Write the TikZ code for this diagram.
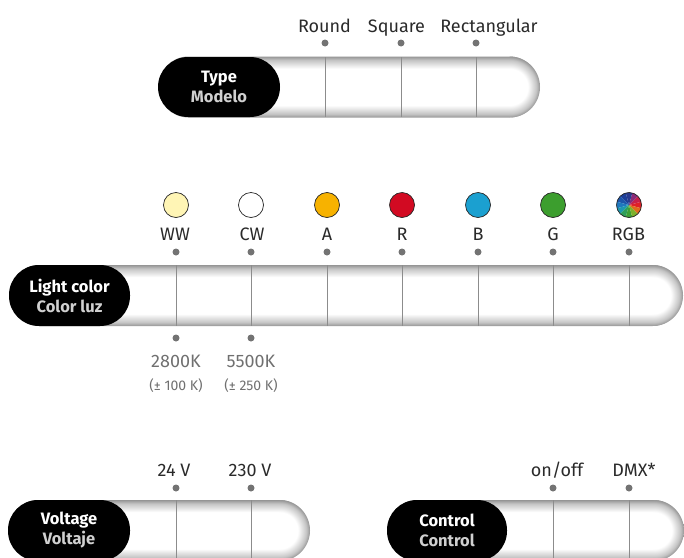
\documentclass[tikz,border=0pt]{standalone}
\usepackage{fontspec}
\setmainfont{Fira Sans}
\definecolor{tubeedge}{HTML}{959595}
\definecolor{labcol}{HTML}{2A2A2A}
\definecolor{graytxt}{HTML}{707070}
\definecolor{dotcol}{HTML}{737373}
\definecolor{divcol}{HTML}{8C8C8C}
\definecolor{subcol}{HTML}{D0D0D0}
\definecolor{cww}{HTML}{FFF5B5}
\definecolor{ccw}{HTML}{FFFFFF}
\definecolor{ca}{HTML}{F7B200}
\definecolor{cr}{HTML}{D20A22}
\definecolor{cb}{HTML}{1BA0D0}
\definecolor{cg}{HTML}{3C9E2E}
\pgfdeclareverticalshading{tubeshade}{100bp}{color(0bp)=(tubeedge); color(25bp)=(tubeedge); color(28bp)=(tubeedge!55); color(35bp)=(white); color(65bp)=(white); color(72bp)=(tubeedge!55); color(75bp)=(tubeedge); color(100bp)=(tubeedge)}
\pgfdeclareradialshading{tubeend}{\pgfpointorigin}{color(0bp)=(white); color(15bp)=(white); color(22bp)=(tubeedge!55); color(25bp)=(tubeedge); color(50bp)=(tubeedge)}
\tikzset{
  pill/.style={fill=black, rounded corners=30pt, minimum height=60pt, inner sep=0pt,
    text=white, align=center, font=\bfseries\fontsize{16.5}{20}\selectfont},
  lab/.style={anchor=base, inner sep=0pt, text=labcol, font=\fontsize{18}{20}\selectfont},
  klab/.style={anchor=base, inner sep=0pt, text=graytxt, font=\fontsize{18}{20}\selectfont},
  tol/.style={anchor=base, inner sep=0pt, text=graytxt, font=\fontsize{14}{16}\selectfont},
  dot/.style={circle, fill=dotcol, minimum size=7pt, inner sep=0pt},
  lamp/.style={circle, draw=black!85, line width=0.7pt, minimum size=25pt, inner sep=0pt},
  divider/.style={draw=divcol, line width=0.6pt},
}
\newcommand{\tubebar}[3]{% xl, xr, yc
  \shade[shading=tubeshade, rounded corners=30.5pt] (#1,#3-30.5) rectangle (#2,#3+30.5);
  \begin{scope}
    \clip (#2-30.5,#3-32) rectangle (#2+2,#3+32);
    \shade[shading=tubeend] (#2-30.5,#3) circle (30.5);
  \end{scope}
}
\begin{document}
\begin{tikzpicture}[x=1pt, y=-1pt]
\useasboundingbox (0,0) rectangle (684,557);
\clip (0,0) rectangle (684,557);

% ---------- Type ----------
\tubebar{158}{540}{87}
\foreach \x in {325,401,476} \draw[divider] (\x,57) -- (\x,117);
\node[pill, minimum width=122pt] (p-type) at (219,87) {Type\\\color{subcol}Modelo};
\node[dot] (d-round) at (325,43) {};
\node[dot] (d-square) at (401,43) {};
\node[dot] (d-rect) at (476,43) {};
\node[lab] (l-round) at (324.5,32) {Round};
\node[lab] (l-square) at (396.5,32) {Square};
\node[lab] (l-rect) at (489,32) {Rectangular};

% ---------- Light color ----------
\tubebar{9}{683}{295.5}
\foreach \x in {176,251,327,402,478,553,629} \draw[divider] (\x,265) -- (\x,326);
\node[pill, minimum width=121pt, minimum height=61pt] (p-light) at (69.5,295.5) {Light color\\\color{subcol}Color luz};
\node[lamp, fill=cww] (c-ww) at (176,205) {};
\node[lamp, fill=ccw] (c-cw) at (251,205) {};
\node[lamp, fill=ca] (c-a) at (327,205) {};
\node[lamp, fill=cr] (c-r) at (402,205) {};
\node[lamp, fill=cb] (c-b) at (478,205) {};
\node[lamp, fill=cg] (c-g) at (553,205) {};
\begin{scope}[shift={(629,205)}, yscale=-1]
  \foreach \a/\c in {-15/E02028, 15/C8204A, 45/8A2A78, 75/2A3A8E, 105/1E3F98, 135/1D55AA,
                      165/1F78BE, 195/1E98B0, 225/2E9E5A, 255/3DA035, 285/7DB12C, 315/E06A1E}{
    \definecolor{slc}{HTML}{\c}
    \fill[slc] (0,0) -- (\a:12.5) arc[start angle=\a, end angle=\a+30, radius=12.5] -- cycle;
  }
\end{scope}
\node[lamp] (c-rgb) at (629,205) {};
\node[lab] (l-ww) at (175,240) {WW};
\node[lab] (l-cw) at (252,240) {CW};
\node[lab] (l-a) at (327,240) {A};
\node[lab] (l-r) at (402,240) {R};
\node[lab] (l-b) at (478,240) {B};
\node[lab] (l-g) at (553,240) {G};
\node[lab] (l-rgb) at (628.5,240) {RGB};
\foreach \x/\n in {176/ww,251/cw,327/a,402/r,478/b,553/g,629/rgb}
  \node[dot] (d-\n) at (\x,252) {};
\node[dot] (d-k1) at (176,338) {};
\node[dot] (d-k2) at (251,338) {};
\node[klab] (k-ww) at (176,367) {2800K};
\node[klab] (k-cw) at (251,367) {5500K};
\node[tol] (t-ww) at (176,390) {(± 100 K)};
\node[tol] (t-cw) at (251,390) {(± 250 K)};

% ---------- Voltage ----------
\tubebar{8}{310}{530.5}
\foreach \x in {176,251} \draw[divider] (\x,500) -- (\x,561);
\node[pill, minimum width=122pt, minimum height=61pt] (p-volt) at (69,530.5) {Voltage\\\color{subcol}Voltaje};
\node[dot] (d-24) at (176,488) {};
\node[dot] (d-230) at (251,488) {};
\node[lab] (l-24) at (174,476) {24 V};
\node[lab] (l-230) at (250,476) {230 V};

% ---------- Control ----------
\tubebar{387}{684}{530.5}
\foreach \x in {553,629} \draw[divider] (\x,500) -- (\x,561);
\node[pill, minimum width=120pt, minimum height=61pt] (p-ctrl) at (447,530.5) {Control\\\color{subcol}Control};
\node[dot] (d-onoff) at (553,488) {};
\node[dot] (d-dmx) at (629,488) {};
\node[lab] (l-onoff) at (557,476) {on/off};
\node[lab] (l-dmx) at (634,476) {DMX*};
\end{tikzpicture}
\end{document}
